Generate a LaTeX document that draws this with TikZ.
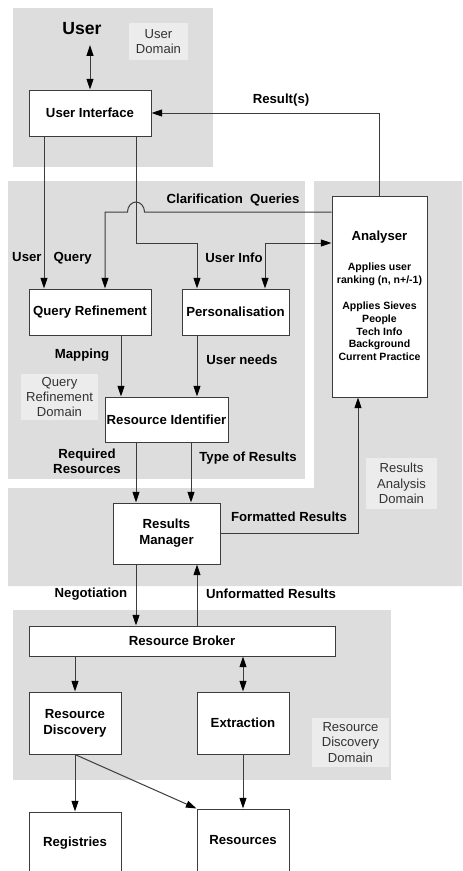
\documentclass[tikz,border=0pt]{standalone}
\usepackage{fontspec}
\setmainfont{Liberation Sans}
\usetikzlibrary{arrows.meta,calc}
\definecolor{domaingray}{RGB}{221,221,221}
\definecolor{labelgray}{RGB}{236,236,236}
\definecolor{linegray}{RGB}{60,60,60}

\begin{document}
\begin{tikzpicture}[x=0.75pt,y=0.75pt,yscale=-1,xscale=1,
  >={Triangle[length=8pt,width=5.2pt,color=black]},
  box/.style={draw=linegray,fill=white,line width=0.75pt,align=center,inner sep=0pt,font=\fontsize{9.9}{12}\selectfont\bfseries},
  tag/.style={align=center,inner sep=0pt,font=\fontsize{9.9}{11.25}\selectfont\bfseries},
  domainlbl/.style={fill=labelgray,text=black!80,align=center,inner sep=0pt,font=\fontsize{9.8}{11.6}\selectfont},
  wire/.style={draw=linegray,line width=0.75pt}]
\useasboundingbox (0,0) rectangle (462,871);

%Shape: Domains
\fill[domaingray] (13,8) rectangle (213,167);
\fill[domaingray] (8,181) rectangle (305,479);
\fill[domaingray] (314,181) -- (462,181) -- (462,586) -- (8,586) -- (8,488) -- (314,488) -- cycle;
\fill[domaingray] (13,610) rectangle (391,780);

% Domain Labels
\node[domainlbl,minimum width=44.25pt,minimum height=27.75pt] (userdom) at (158.5,41.5) {User\\Domain};
\node[domainlbl,minimum width=57.75pt,minimum height=34.5pt] (querydom) at (59.5,397) {Query\\Refinement\\Domain};
\node[domainlbl,minimum width=53.25pt,minimum height=38.25pt] (resultdom) at (401.5,483.5) {Results\\Analysis\\Domain};
\node[domainlbl,minimum width=57.75pt,minimum height=36.75pt] (discdom) at (350.5,742.5) {Resource\\Discovery\\Domain};

%Shape: Rectangle
\node[inner sep=0pt,inner ysep=7.3pt,font=\fontsize{13.2}{15}\selectfont\bfseries] (user) at (82,29) {User};
\node[box,minimum width=91.5pt,minimum height=34.5pt] (ui) at (90,113) {User Interface};
\node[box,minimum width=91.5pt,minimum height=34.5pt] (qr) at (90,312) {Query Refinement};
\node[box,minimum width=80.25pt,minimum height=34.5pt] (pers) at (235.5,312) {Personalisation};
\node[box,minimum width=92.25pt,minimum height=33.75pt] (ri) at (166.5,419.5) {Resource Identifier};
\node[box,minimum width=71.25pt,minimum height=150.75pt] (an) at (379.5,296.5) {};
\node[box,minimum width=80.25pt,minimum height=45.75pt] (rm) at (166.5,533.5) {Results\\Manager};
\node[box,minimum width=229.5pt,minimum height=22.5pt] (rb) at (182,641) {Resource Broker};
\node[box,minimum width=69pt,minimum height=46.5pt] (rd) at (75,723) {Resource\\Discovery};
\node[box,minimum width=69pt,minimum height=46.5pt] (ex) at (243,723) {Extraction};
\node[box,minimum width=69pt,minimum height=46.5pt] (reg) at (75,843) {Registries};
\node[box,minimum width=69pt,minimum height=47.25pt] (res) at (243,840.5) {Resources};

% Text Node
\node[tag,font=\fontsize{9.9}{12}\selectfont\bfseries] (antitle) at (379.5,237) {Analyser};
\node[tag,font=\fontsize{7.9}{9.65}\selectfont\bfseries] (annotes) at (379.5,312) {Applies user\\ranking (n, n+/-1)\\[9.65pt]Applies Sieves\\People\\Tech Info\\Background\\Current Practice};

% Tracks
\coordinate (uqX) at (44,0);
\coordinate (clarX) at (105,0);
\coordinate (mapX) at (121,0);
\coordinate (uiR) at (136,0);
\coordinate (typeX) at (191,0);
\coordinate (persL) at (197,0);
\coordinate (persR) at (265,0);
\coordinate (fmtX) at (358,0);
\coordinate (clarY) at (0,212);
\coordinate (infoY) at (0,243);

%Straight Lines
\draw[wire,<->] (ui.north |- user.south) -- (ui.north);
\draw[wire,->] (an.north) |- (ui.east);
\draw[wire,->] (uqX |- ui.south) -- (uqX |- qr.north);
\draw[wire,->] (uiR |- ui.south) -- (uiR |- infoY) -| (persL |- pers.north);
\draw[wire,->] (an.west |- clarY) -- ($(uiR |- clarY)+(8.5,0)$) arc[start angle=0,end angle=-180,x radius=8.5,y radius=10] -- (clarX |- clarY) -- (clarX |- qr.north);
\draw[wire,<->] (an.west |- infoY) -| (persR |- pers.north);
\draw[wire,->] (mapX |- qr.south) -- (mapX |- ri.north);
\draw[wire,->] (persL |- pers.south) -- (persL |- ri.north);
\draw[wire,->] (uiR |- ri.south) -- (uiR |- rm.north);
\draw[wire,->] (typeX |- ri.south) -- (typeX |- rm.north);
\draw[wire,->] (rm.east) -| (fmtX |- an.south);
\draw[wire,->] (uiR |- rm.south) -- (uiR |- rb.north);
\draw[wire,->] (persL |- rb.north) -- (persL |- rm.south);
\draw[wire,->] (rd.north |- rb.south) -- (rd.north);
\draw[wire,<->] (ex.north |- rb.south) -- (ex.north);
\draw[wire,->] (rd.south) -- (reg.north);
\draw[wire,->] (rd.south) -- (res.north west);
\draw[wire,->] (ex.south) -- (res.north);

% Text Node
\node[tag] (resultlbl) at (281,100) {Result(s)};
\node[tag] (clarlbl) at (233,200) {Clarification\ \ Queries};
\node[tag] (uqlbl) at (52,258) {User\hspace{9pt}Query};
\node[tag] (infolbl) at (234,258) {User Info};
\node[tag] (maplbl) at (82,355) {Mapping};
\node[tag] (needlbl) at (242,360) {User needs};
\node[tag] (reqlbl) at (87,461.5) {Required\\Resources};
\node[tag] (typelbl) at (248,458) {Type of Results};
\node[tag] (fmtlbl) at (289,517) {Formatted Results};
\node[tag] (neglbl) at (91,594) {Negotiation};
\node[tag] (unflbl) at (271,594) {Unformatted Results};

\end{tikzpicture}
\end{document}
